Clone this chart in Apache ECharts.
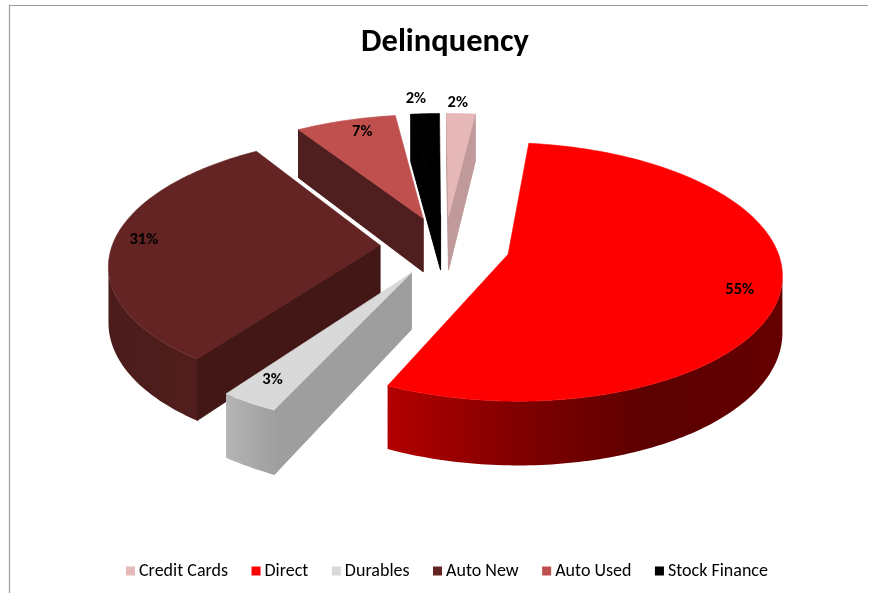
<!DOCTYPE html>
<html>
<head>
<meta charset="utf-8">
<style>html,body{margin:0;padding:0;background:#fff}#chart{width:869px;height:593px}</style>
<script src="https://cdn.jsdelivr.net/npm/echarts@6/dist/echarts.min.js"></script>
</head>
<body>
<div id="chart"></div>
<script>
// Delinquency share by product, in percent
const categories = ['Credit Cards', 'Direct', 'Durables', 'Auto New', 'Auto Used', 'Stock Finance'];
const shares = [2, 55, 3, 31, 7, 2];

// Face colours per product: top, cut wall, outer wall stops
const topColors = ['#e6b9b8', '#ff0000', '#d9d9d9', '#632423', '#c0504d', '#000000'];
const cutColors = ['#c09a9a', '#7a0000', '#9e9e9e', '#421716', '#4f1f1f', '#000000'];
const rimStops = [
  ['#c09a9a', '#c09a9a'],
  ['#b40000', '#800000', '#5c0000', '#640000'],
  ['#b4b4b4', '#a0a0a0'],
  ['#4a1c1b', '#501e1d'],
  ['#4f1f1f', '#4f1f1f'],
  ['#000000', '#000000']
];
// Painter order: back slices first
const paintZ = [2, 7, 6, 5, 3, 2.5];

// Label placement: radius fraction and angle nudge in degrees
const labelRadius = [1.12, 0.86, 0.85, 0.89, 0.86, 1.17];
const labelNudge = [-1, 2.5, 1, 1.4, 2, -1.5];

// Projection of the tilted disc
const view = {cx: 445, cy: 246, R: 268, explode: 65, tilt: 0.465, persp: 0.135, depth: 55, startDeg: -0.4};

const total = shares.reduce((a, b) => a + b, 0);
const starts = [];
shares.reduce((acc, v, i) => { starts[i] = acc; return acc + v; }, 0);
const toDeg = v => view.startDeg + 360 * v / total;

function project(X, Y, z) {
  const s = 1 / (1 + view.persp * Y / view.R);
  return [view.cx + X * s, view.cy - view.tilt * Y * s + z * s];
}
function polar(o, deg, r, z) {
  const t = deg * Math.PI / 180;
  return project(o[0] + r * Math.sin(t), o[1] + r * Math.cos(t), z);
}
function signedArea(p) {
  let a = 0;
  for (let i = 0; i < p.length; i++) {
    const q = p[(i + 1) % p.length];
    a += p[i][0] * q[1] - q[0] * p[i][1];
  }
  return a;
}

function renderSlice(params, api) {
  const i = params.seriesIndex;
  const value = api.value(0);
  const a0 = toDeg(starts[i]);
  const a1 = a0 + 360 * value / total;
  const mid = (a0 + a1) / 2 * Math.PI / 180;
  const o = [view.explode * Math.sin(mid), view.explode * Math.cos(mid)];
  const R = view.R, h = view.depth;
  const children = [];

  const wall = (pts, fill) => {
    if (signedArea(pts) < 0) {
      children.push({type: 'polygon', shape: {points: pts},
        style: {fill: fill, stroke: fill, lineWidth: 1}});
    }
  };
  const apexT = polar(o, 0, 0, 0), apexB = polar(o, 0, 0, h);

  // Cut walls facing the viewer
  wall([apexT, polar(o, a0, R, 0), polar(o, a0, R, h), apexB], cutColors[i]);
  wall([polar(o, a1, R, 0), apexT, apexB, polar(o, a1, R, h)], cutColors[i]);

  // Outer wall: only the part of the rim turned toward the viewer
  const steps = Math.max(4, Math.ceil(a1 - a0));
  const upper = [], lower = [];
  for (let k = 0; k < steps; k++) {
    const d0 = a0 + (a1 - a0) * k / steps, d1 = a0 + (a1 - a0) * (k + 1) / steps;
    const q = [polar(o, d0, R, 0), polar(o, d1, R, 0), polar(o, d1, R, h), polar(o, d0, R, h)];
    if (signedArea(q) < 0) {
      if (!upper.length) { upper.push(q[0]); lower.push(q[3]); }
      upper.push(q[1]); lower.push(q[2]);
    }
  }
  if (upper.length) {
    const stops = rimStops[i];
    children.push({type: 'polygon', shape: {points: upper.concat(lower.reverse())},
      style: {fill: new echarts.graphic.LinearGradient(0, 0, 1, 0,
        stops.map((c, n) => ({offset: n / (stops.length - 1), color: c})))}});
  }

  // Top face
  const face = [apexT];
  for (let k = 0; k <= steps; k++) face.push(polar(o, a0 + (a1 - a0) * k / steps, R, 0));
  children.push({type: 'polygon', shape: {points: face},
    style: {fill: topColors[i], stroke: topColors[i], lineWidth: 0.6}});

  // Percent label
  const lp = polar(o, (a0 + a1) / 2 + labelNudge[i], R * labelRadius[i], 0);
  children.push({type: 'text', z2: 50, style: {
    x: lp[0], y: lp[1], text: value + '%', align: 'center', verticalAlign: 'middle',
    fill: '#000', font: 'bold 16.5px Carlito, Lato, sans-serif'}});
  return {type: 'group', children: children};
}

const chart = echarts.init(document.getElementById('chart'), null, {renderer: 'canvas'});
chart.setOption({
  animation: false,
  backgroundColor: '#fff',
  title: {
    text: 'Delinquency', left: 440, top: 21, textAlign: 'center',
    textStyle: {fontFamily: 'Carlito, Lato, sans-serif', fontWeight: 'bold', fontSize: 32.5, color: '#000'}
  },
  legend: {
    data: categories, left: 121, top: 557, itemWidth: 9, itemHeight: 9, itemGap: 23.5,
    icon: 'rect', textStyle: {fontFamily: 'Carlito, Lato, sans-serif', fontSize: 18, color: '#000', padding: [0, 0, 0, -1]}
  },
  graphic: [{
    type: 'polyline', silent: true,
    shape: {points: [[9.5, 593], [9.5, 5.5], [868, 5.5]]},
    style: {stroke: '#9a9a9a', lineWidth: 1.2, fill: null}
  }],
  series: categories.map((name, i) => ({
    type: 'custom', name: name, coordinateSystem: 'none', z: paintZ[i],
    itemStyle: {color: topColors[i]},
    renderItem: renderSlice,
    data: [[shares[i]]]
  }))
});
</script>
</body>
</html>
